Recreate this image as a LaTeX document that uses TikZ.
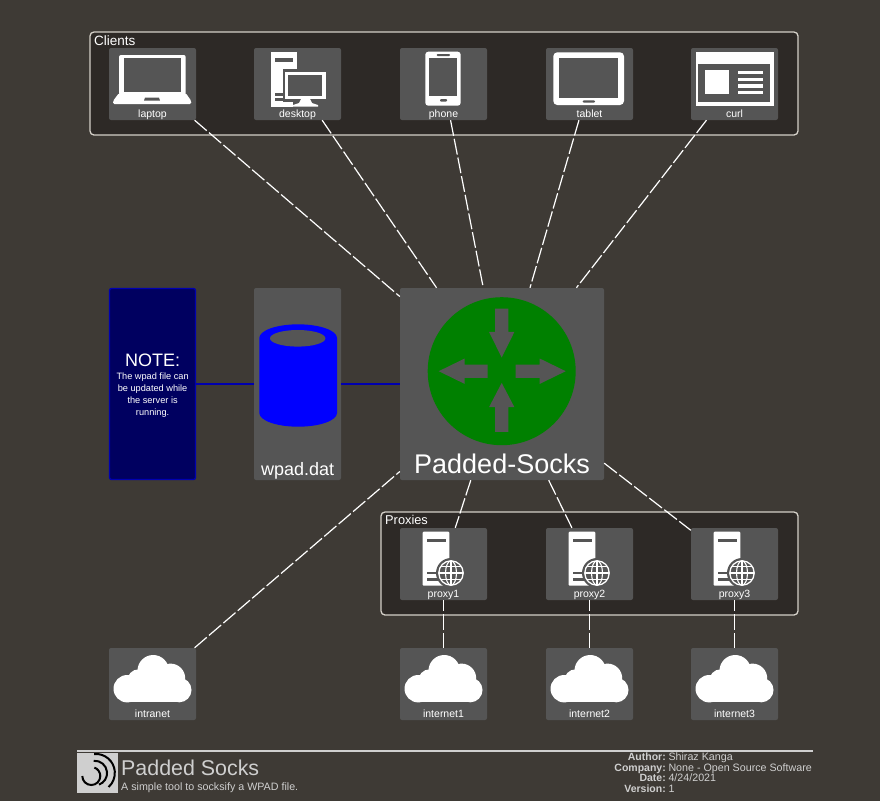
\documentclass[tikz,border=0pt]{standalone}
\usepackage{fontspec}
\setmainfont{Liberation Sans}
\definecolor{pagebg}{HTML}{3E3A35}
\definecolor{groupbg}{HTML}{2D2926}
\definecolor{tilebg}{HTML}{555555}
\definecolor{rimcol}{HTML}{D4D0C8}
\definecolor{footcol}{HTML}{CFCFCF}
\definecolor{notebg}{HTML}{000060}
\definecolor{noteline}{HTML}{0000B0}
\tikzset{
    tile/.style={draw=none, fill=tilebg, rounded corners=2pt, inner sep=0pt, minimum width=87pt, minimum height=72pt},
    group/.style={draw=rimcol, fill=groupbg, line width=1.3pt, rounded corners=4pt},
    ticon/.style={fill=white, draw=none},
    tcut/.style={fill=tilebg, draw=none},
    tilelabel/.style={anchor=base, inner sep=0pt, text=white, font=\fontsize{10.5}{12}\selectfont},
    grouplabel/.style={anchor=base west, inner sep=0pt, text=white},
    footlabel/.style={inner sep=0pt, text=footcol, font=\fontsize{10.7}{12}\selectfont},
    netlink/.style={draw=white, line width=1.2pt, dash pattern=on 16pt off 3pt},
    bluelink/.style={draw=noteline, line width=1.3pt},
    cloudpic/.pic={
        \fill[white] (-25.3,4.7) circle[radius=13.7];
        \fill[white] (26.7,6) circle[radius=12.3];
        \fill[white] (0.7,-13.3) circle[radius=15.7];
        \fill[white] (18,-5.7) circle[radius=14.7];
        \fill[white] (-13.7,-3) circle[radius=11.7];
        \fill[white] (-25.3,0) rectangle (26.7,18.3);
    },
    serverpic/.pic={
        \fill[ticon, rounded corners=1pt] (-20.8,-32.3) rectangle (5.8,21.7);
        \fill[tcut] (-16.2,-25) rectangle (2.2,-22.3);
        \fill[tcut] (-16.2,7.7) rectangle (-5.5,10.3);
        \fill[tcut] (-16.2,14.3) rectangle (-5.5,17);
        \fill[tcut] (7.5,9) circle[radius=15];
        \draw[white, line width=1.3pt] (7.5,9) circle[radius=12.2];
        \draw[white, line width=1.1pt] (7.5,9) ellipse[x radius=5.5, y radius=12.2];
        \draw[white, line width=1.1pt] (7.5,-3.2) -- (7.5,21.2);
        \draw[white, line width=1.1pt] (-4.7,9) -- (19.7,9);
        \draw[white, line width=1.1pt] (-2.8,2.5) -- (17.8,2.5);
        \draw[white, line width=1.1pt] (-2.8,15.5) -- (17.8,15.5);
    },
}
\begin{document}
\begin{tikzpicture}[x=1pt, y=-1pt]
    \useasboundingbox (0,0) rectangle (880,801);
    \fill[pagebg] (0,0) rectangle (880,801);
    % groups
    \draw[group] (90,32) rectangle (798,135);
    \draw[group] (381,512) rectangle (798,615);
    \node[grouplabel, font=\fontsize{13.5}{15}\selectfont] (clientstitle) at (94,45) {Clients};
    \node[grouplabel, font=\fontsize{12.8}{15}\selectfont] (proxiestitle) at (385,524) {Proxies};
    % tiles
    \foreach \name/\tx/\ty/\lab in {laptop/152.5/84/laptop, desktop/297.5/84/desktop, phone/443.5/84/phone,
        tablet/589.5/84/tablet, curl/734.5/84/curl, proxya/443.5/564/proxy1, proxyb/589.5/564/proxy2,
        proxyc/734.5/564/proxy3, intranet/152.5/684/intranet, neta/443.5/684/internet1,
        netb/589.5/684/internet2, netc/734.5/684/internet3} {
        \node[tile] (\name) at (\tx,\ty) {};
        \node[tilelabel] (\name label) at (\tx,\ty+33.5) {\lab};
    }
    \node[tile, minimum width=204pt, minimum height=192pt] (padded) at (502,384) {};
    \node[tile, minimum height=192pt] (wpad) at (297.5,384) {};
    \node[draw=noteline, fill=notebg, line width=1.3pt, rounded corners=2pt, inner sep=0pt,
        minimum width=86pt, minimum height=191pt] (note) at (152.5,384) {};
    % links
    \foreach \name in {laptop,desktop,phone,tablet,curl,intranet}
        \draw[netlink] (\name) -- (padded);
    \foreach \name in {proxya,proxyb,proxyc}
        \draw[netlink] (padded) -- (\name);
    \draw[netlink, dash phase=4.8pt] (proxya) -- (neta);
    \draw[netlink, dash phase=4.8pt] (proxyb) -- (netb);
    \draw[netlink, dash phase=4.8pt] (proxyc) -- (netc);
    \draw[bluelink] (note) -- (wpad);
    \draw[bluelink] (wpad) -- (padded);
    % laptop
    \fill[ticon, rounded corners=2pt] (119,55) rectangle (185.7,95);
    \fill[tcut] (123.5,57.7) rectangle (181.2,91.7);
    \fill[ticon, rounded corners=1.5pt] (119,93) -- (185.7,93) -- (191.3,101) -- (191.3,104) -- (113,104) -- (113,101) -- cycle;
    \fill[tcut] (145,97.5) -- (159,97.5) -- (160,100.7) -- (144,100.7) -- cycle;
    % desktop
    \fill[ticon] (270.7,51.7) rectangle (297.3,106.7);
    \fill[tcut] (274.7,58.3) rectangle (293.3,62.3);
    \fill[tcut] (275,93.3) rectangle (283,95.7);
    \fill[tcut] (275,98.3) rectangle (293,101);
    \fill[tcut] (282.5,69) rectangle (328,102);
    \fill[tcut] (293,102) rectangle (320,109);
    \fill[ticon] (285,71.7) rectangle (325.7,99);
    \fill[tcut] (288.3,75) rectangle (321.7,95.7);
    \fill[ticon] (301,99) -- (310,99) -- (312,103) -- (318,105) -- (318,106.7) -- (293,106.7) -- (293,105) -- (299,103) -- cycle;
    % phone
    \fill[ticon, rounded corners=3pt] (425.3,51.7) rectangle (460.7,105.7);
    \fill[tcut] (429.3,58.3) rectangle (456.7,96);
    \fill[tcut, rounded corners=1pt] (436.7,54) rectangle (450,56);
    \fill[tcut, rounded corners=1pt] (440,99) rectangle (447,101.7);
    % tablet
    \fill[ticon, rounded corners=4pt] (553.3,52.3) rectangle (624,105);
    \fill[tcut] (559,58.3) rectangle (618.3,98.3);
    \fill[tcut, rounded corners=1pt] (582.7,100.3) rectangle (595,102.7);
    % curl
    \fill[ticon] (695.7,52.3) rectangle (774,105.7);
    \fill[tcut] (698.3,63.7) rectangle (770,101.7);
    \fill[ticon] (705.3,70.3) rectangle (729.3,94.3);
    \foreach \ly in {70.7,77.7,84.3,91}
        \fill[ticon] (737.7,\ly) rectangle (763.3,\ly+3.3);
    % proxies and clouds
    \foreach \name in {proxya,proxyb,proxyc}
        \pic at (\name) {serverpic};
    \foreach \name in {intranet,neta,netb,netc}
        \pic at (\name) {cloudpic};
    % wpad
    \fill[blue] (259.3,338) -- (259.3,413) arc[start angle=180, end angle=0, x radius=38.85, y radius=13.7]
        -- (337,338) arc[start angle=0, end angle=-180, x radius=38.85, y radius=13.7] -- cycle;
    \fill[tcut] (297.7,338.3) ellipse[x radius=27.7, y radius=8.3];
    \node[anchor=base, inner sep=0pt, text=white, font=\fontsize{18}{20}\selectfont] (wpadlabel) at (297.7,475) {wpad.dat};
    % note
    \node[anchor=base, inner sep=0pt, text=white, font=\fontsize{18}{20}\selectfont] (notetitle) at (152.6,366) {NOTE:};
    \node[anchor=north, inner sep=0pt, text=white, align=center, font=\fontsize{9.2}{12}\selectfont] (notebody) at (152.6,373)
        {The wpad file can\\be updated while\\the server is\\running.};
    % padded socks
    \fill[green!50!black] (501.7,371.2) circle[radius=74];
    \fill[tcut] (495,308.5) -- (508.4,308.5) -- (508.4,331.9) -- (514.4,331.9) -- (501.7,357.5) -- (489,331.9) -- (495,331.9) -- cycle;
    \fill[tcut] (495,431.9) -- (508.4,431.9) -- (508.4,407.2) -- (514.4,407.2) -- (501.7,382.9) -- (489,407.2) -- (495,407.2) -- cycle;
    \fill[tcut] (487.7,364.5) -- (487.7,377.9) -- (464.7,377.9) -- (464.7,383.9) -- (438.7,371.2) -- (464.7,358.5) -- (464.7,364.5) -- cycle;
    \fill[tcut] (515.7,364.5) -- (515.7,377.9) -- (539.7,377.9) -- (539.7,383.9) -- (565.7,371.2) -- (539.7,358.5) -- (539.7,364.5) -- cycle;
    \node[anchor=base, inner sep=0pt, text=white, font=\fontsize{27}{30}\selectfont] (paddedlabel) at (502,473.7) {Padded-Socks};
    % footer
    \draw[footcol, line width=1.2pt] (77,751) -- (813,751);
    \fill[footcol] (77.3,752.7) rectangle (118.3,793.3);
    \draw[black, line width=2pt] (91.3,776) ++(-9,0) arc[start angle=180, end angle=-70, radius=9];
    \draw[black, line width=2pt] (94.7,773) ++(-1,-12.2) arc[start angle=-95, end angle=70, radius=12.3];
    \draw[black, line width=2pt] (95.7,773) ++(-1.5,-19) arc[start angle=-95, end angle=48, radius=19];
    \node[anchor=base west, inner sep=0pt, text=footcol, font=\fontsize{21.4}{24}\selectfont] (title) at (121,775) {Padded Socks};
    \node[footlabel, anchor=base west] (subtitle) at (121,790) {A simple tool to socksify a WPAD file.};
    \foreach \name/\lab/\val/\ly in {author/Author:/Shiraz Kanga/760.7, company/Company:/None - Open Source Software/771,
        date/Date:/4\slash 24\slash 2021/781.7, version/Version:/1/792.3} {
        \node[footlabel, anchor=base east, font=\fontsize{10.5}{12}\selectfont\bfseries] (\name key) at (666,\ly) {\lab};
        \node[footlabel, anchor=base west] (\name val) at (668.3,\ly) {\val};
    }
\end{tikzpicture}
\end{document}
